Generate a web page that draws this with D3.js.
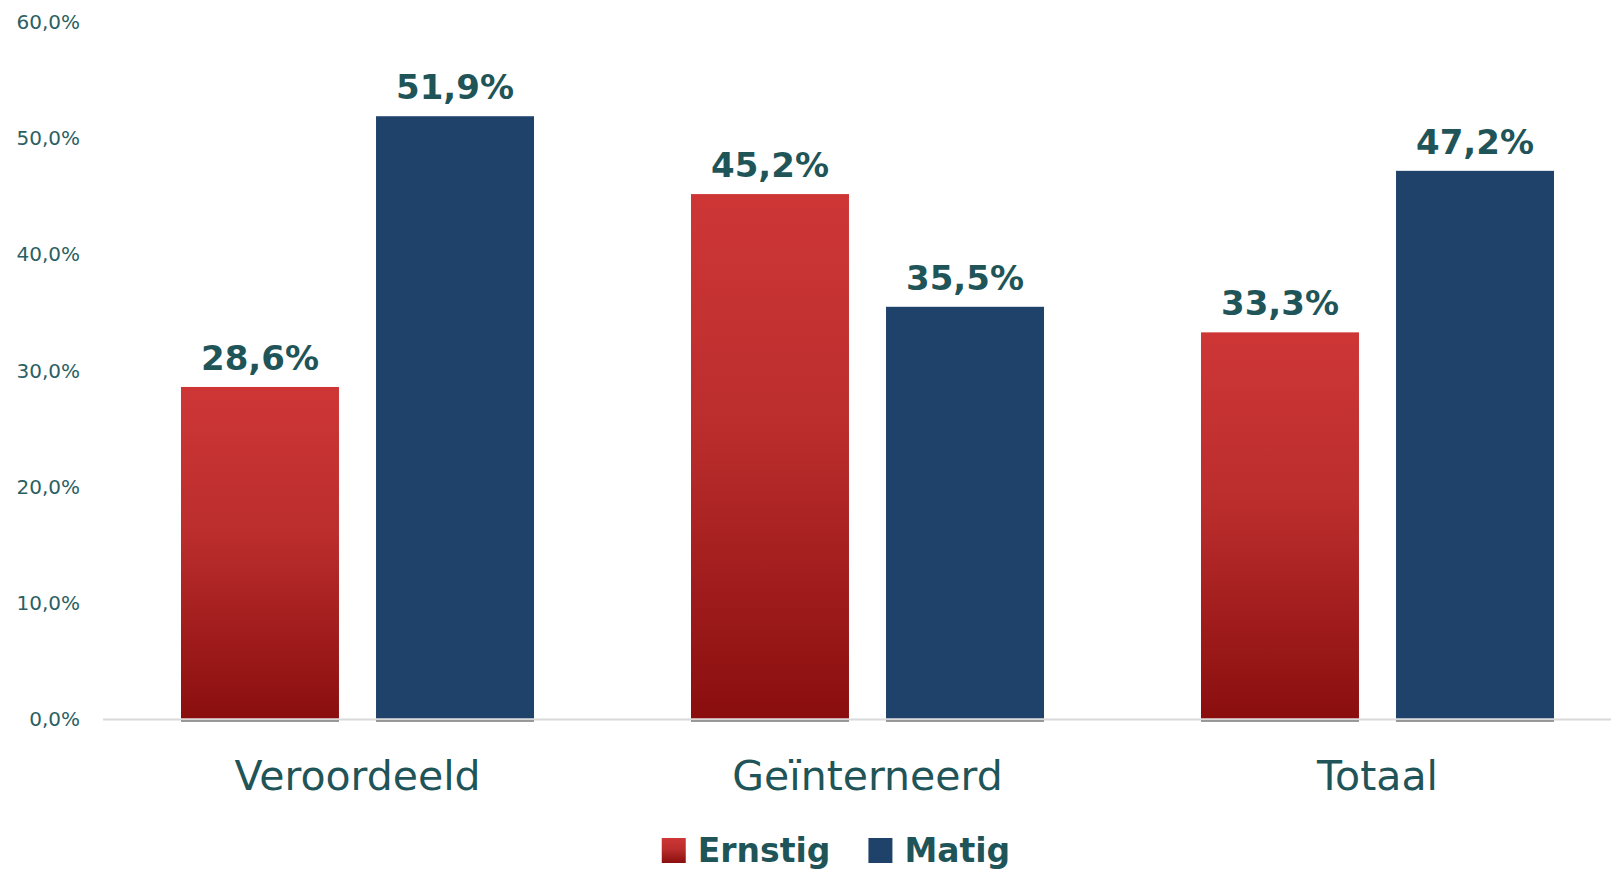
<!DOCTYPE html>
<html>
<head>
<meta charset="utf-8">
<script src="https://cdn.jsdelivr.net/npm/d3@7"></script>
<style>
  body { margin: 0; background: #fff; }
  svg { display: block; font-family: "DejaVu Sans", sans-serif; }
</style>
</head>
<body>
<svg id="chart" width="1611" height="872"></svg>
<script>
// data
var categories = ["Veroordeeld", "Geïnterneerd", "Totaal"];
var series = ["Ernstig", "Matig"];
var ernstig = [28.6, 45.2, 33.3];
var matig = [51.9, 35.5, 47.2];
var yTicks = [0, 10, 20, 30, 40, 50, 60];

var W = 1611, H = 872;
var svg = d3.select("#chart");
var nl = d3.formatLocale({decimal: ",", thousands: ".", grouping: [3], currency: ["€", ""]});
var fmt1 = nl.format(".1f");

// gradient for red bars
var defs = svg.append("defs");
var grad = defs.append("linearGradient").attr("id", "redgrad")
  .attr("x1", 0).attr("y1", 0).attr("x2", 0).attr("y2", 1);
grad.append("stop").attr("offset", "0%").attr("stop-color", "#ce3636");
grad.append("stop").attr("offset", "45%").attr("stop-color", "#bb2d2d");
grad.append("stop").attr("offset", "100%").attr("stop-color", "#8a0e0e");
var colors = { Ernstig: "url(#redgrad)", Matig: "#1f426b" };

// scales
var y = d3.scaleLinear().domain([0, 60]).range([719.3, 22.1]);
var x0 = d3.scaleBand().domain(categories).range([102.5, 1632.5])
  .paddingInner(0.3078).paddingOuter(0.1539);
var x1 = d3.scaleBand().domain(series).range([0, x0.bandwidth()]).paddingInner(0.19);

// y axis labels
var yAxis = d3.axisLeft(y).tickValues(yTicks).tickSize(0).tickPadding(0)
  .tickFormat(function(d) { return fmt1(d) + "%"; });
var gy = svg.append("g").attr("transform", "translate(80,0)").call(yAxis);
gy.select(".domain").remove();
gy.selectAll("text").attr("fill", "#2b5f63").style("font-size", "20px")
  .style("font-family", "'DejaVu Sans', sans-serif");

// baseline
svg.append("line").attr("x1", 103).attr("x2", W)
  .attr("y1", y(0) + 0.2).attr("y2", y(0) + 0.2)
  .attr("stroke", "#d9d9d9").attr("stroke-width", 2.2);

// bars
var rows = categories.map(function(c, i) {
  return { cat: c, vals: [ { s: "Ernstig", v: ernstig[i] }, { s: "Matig", v: matig[i] } ] };
});
var groups = svg.append("g").selectAll("g").data(rows).enter().append("g")
  .attr("transform", function(d) { return "translate(" + x0(d.cat) + ",0)"; });

groups.selectAll("rect").data(function(d) { return d.vals; }).enter().append("rect")
  .attr("x", function(d) { return x1(d.s); })
  .attr("y", function(d) { return y(d.v); })
  .attr("width", x1.bandwidth())
  .attr("height", function(d) { return y(0) - y(d.v) - 1; })
  .attr("fill", function(d) { return colors[d.s]; });

// dark shadow line under each bar
groups.selectAll("line.shadow").data(function(d) { return d.vals; }).enter().append("line")
  .attr("class", "shadow")
  .attr("x1", function(d) { return x1(d.s); })
  .attr("x2", function(d) { return x1(d.s) + x1.bandwidth(); })
  .attr("y1", y(0) + 1.6).attr("y2", y(0) + 1.6)
  .attr("stroke", "#7a7a7a").attr("stroke-width", 1.5);

// value labels
groups.selectAll("text.val").data(function(d) { return d.vals; }).enter().append("text")
  .attr("class", "val")
  .attr("x", function(d) { return x1(d.s) + x1.bandwidth() / 2; })
  .attr("y", function(d) { return y(d.v) - 17; })
  .attr("text-anchor", "middle")
  .attr("fill", "#1f5558")
  .style("font-size", "34px").style("font-weight", "bold")
  .text(function(d) { return fmt1(d.v) + "%"; });

// category labels
svg.append("g").selectAll("text").data(categories).enter().append("text")
  .attr("x", function(d) { return x0(d) + x0.bandwidth() / 2; })
  .attr("y", 790)
  .attr("text-anchor", "middle")
  .attr("fill", "#1f5558")
  .style("font-size", "41px")
  .text(function(d) { return d; });

// legend
var leg = svg.append("g");
var cx = 0;
series.forEach(function(s, i) {
  if (i > 0) cx += 38;
  leg.append("rect").attr("x", cx).attr("y", 838).attr("width", 24).attr("height", 25)
    .attr("fill", colors[s]);
  cx += 24 + 12;
  var t = leg.append("text").attr("x", cx).attr("y", 862)
    .attr("fill", "#1f5558")
    .style("font-size", "33px").style("font-weight", "bold")
    .text(s);
  cx += t.node().getComputedTextLength();
});
leg.attr("transform", "translate(" + (836 - cx / 2) + ",0)");
</script>
</body>
</html>
